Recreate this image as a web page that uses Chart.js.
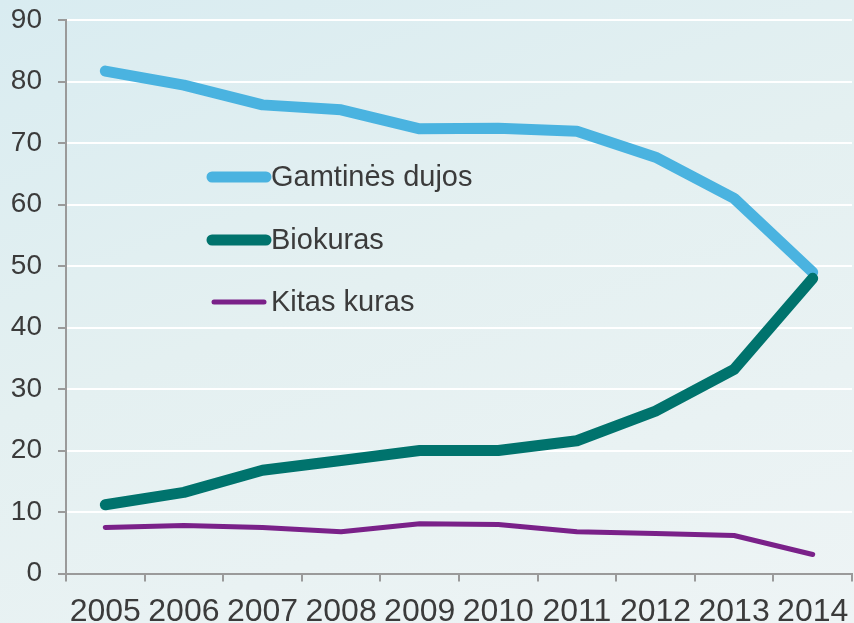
<!DOCTYPE html>
<html>
<head>
<meta charset="utf-8">
<script src="https://cdn.jsdelivr.net/npm/chart.js@4.4.1/dist/chart.umd.min.js"></script>
<style>
  html, body { margin: 0; padding: 0; }
  body {
    width: 854px; height: 623px; overflow: hidden;
    background: linear-gradient(160deg, #d9ecf1 0%, #e4f0f1 45%, #eef4f5 100%);
  }
  #wrap { position: relative; width: 854px; height: 650px; }
</style>
</head>
<body>
<div id="wrap"><canvas id="fuelChart"></canvas></div>
<script>
'use strict';

// ===== DATA =====
const YEARS = ['2005','2006','2007','2008','2009','2010','2011','2012','2013','2014'];
const SERIES_NAMES = ['Gamtinės dujos', 'Biokuras', 'Kitas kuras'];
const GAS = [81.7, 79.4, 76.2, 75.4, 72.3, 72.4, 71.9, 67.7, 61.0, 49.0];
const BIOFUEL = [11.2, 13.2, 16.8, 18.4, 20.0, 20.0, 21.6, 26.4, 33.2, 48.0];
const OTHER = [7.5, 7.8, 7.5, 6.8, 8.1, 8.0, 6.8, 6.5, 6.2, 3.1];
const Y_TICKS = [0, 10, 20, 30, 40, 50, 60, 70, 80, 90];

const FONT = '"Liberation Sans", Arial, sans-serif';
const TEXT = '#3b3b3b';
const AXIS = '#9a9a9a';

// legend drawn inside the plot, line sample + label
const inlineLegend = {
  id: 'inlineLegend',
  afterDatasetsDraw(chart) {
    const ctx = chart.ctx;
    const rows = [
      { y: 177, x0: 212, x1: 266 },
      { y: 240, x0: 212, x1: 266 },
      { y: 302, x0: 214, x1: 264 }
    ];
    ctx.save();
    ctx.font = '29px ' + FONT;
    ctx.textBaseline = 'middle';
    ctx.textAlign = 'left';
    chart.data.datasets.forEach((ds, i) => {
      const r = rows[i];
      ctx.strokeStyle = ds.borderColor;
      ctx.lineWidth = ds.borderWidth;
      ctx.lineCap = 'round';
      ctx.beginPath();
      ctx.moveTo(r.x0, r.y);
      ctx.lineTo(r.x1, r.y);
      ctx.stroke();
      ctx.fillStyle = TEXT;
      ctx.fillText(ds.label, 271, r.y + 1);
    });
    ctx.restore();
  }
};

const commonLine = {
  fill: false,
  tension: 0,
  pointRadius: 0,
  borderCapStyle: 'round',
  borderJoinStyle: 'round'
};

// keep the plot edges where the layout padding puts them
function noEdgePadding(axis) {
  axis.paddingLeft = 0;
  axis.paddingRight = 0;
  axis.paddingTop = 0;
  axis.paddingBottom = 0;
}

new Chart(document.getElementById('fuelChart'), {
  type: 'line',
  data: {
    labels: YEARS,
    datasets: [
      { ...commonLine, label: SERIES_NAMES[0], data: GAS, borderColor: '#4ab3e0', borderWidth: 11, order: 3 },
      { ...commonLine, label: SERIES_NAMES[1], data: BIOFUEL, borderColor: '#00736d', borderWidth: 11, order: 2 },
      { ...commonLine, label: SERIES_NAMES[2], data: OTHER, borderColor: '#7a2189', borderWidth: 5, order: 1 }
    ]
  },
  options: {
    responsive: true,
    maintainAspectRatio: false,
    animation: false,
    layout: { padding: { top: 20, right: 2, left: 11, bottom: 8 } },
    plugins: { legend: { display: false }, tooltip: { enabled: false } },
    scales: {
      x: {
        offset: true,
        afterFit: noEdgePadding,
        grid: { offset: true, drawOnChartArea: false, drawTicks: true, tickLength: 8, color: AXIS, lineWidth: 2 },
        border: { color: AXIS, width: 2 },
        ticks: { color: TEXT, font: { family: FONT, size: 32 }, padding: 11, maxRotation: 0, autoSkip: false }
      },
      y: {
        min: 0,
        max: 90,
        afterFit(axis) {
          noEdgePadding(axis);
          axis.width = 55;
        },
        afterBuildTicks(axis) { axis.ticks = Y_TICKS.map(v => ({ value: v })); },
        grid: { color: '#ffffff', lineWidth: 2, drawTicks: true, tickLength: 8, tickColor: AXIS, tickWidth: 2 },
        border: { color: AXIS, width: 2 },
        ticks: { color: TEXT, font: { family: FONT, size: 28 }, padding: 16 }
      }
    }
  },
  plugins: [inlineLegend]
});
</script>
</body>
</html>
